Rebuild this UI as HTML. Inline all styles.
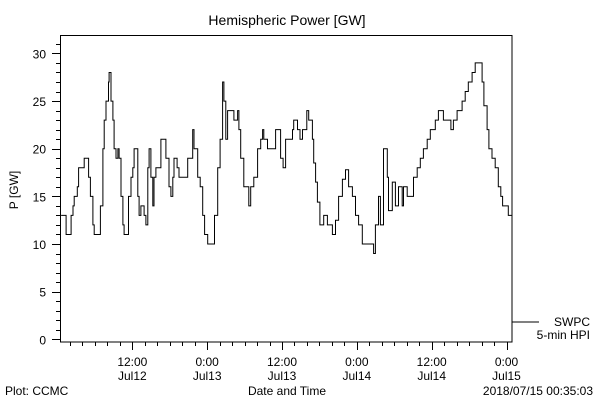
<!DOCTYPE html>
<html><head><meta charset="utf-8"><style>
body{margin:0;background:#fff}
svg{display:block;font-family:"Liberation Sans",sans-serif}
text{fill:#000}
</style></head><body>
<svg id="chart" width="600" height="400" viewBox="0 0 600 400">
<rect x="0" y="0" width="600" height="400" fill="#fff"/>
<text x="287" y="25" font-size="14" text-anchor="middle">Hemispheric Power [GW]</text>
<text x="18" y="190" font-size="12" text-anchor="middle" transform="rotate(-90 18 190)">P [GW]</text>
<text x="287" y="395" font-size="12" text-anchor="middle">Date and Time</text>
<text x="5" y="395" font-size="12">Plot: CCMC</text>
<text x="593" y="395" font-size="12" text-anchor="end">2018/07/15 00:35:03</text>
<line x1="512" y1="322" x2="539" y2="322" stroke="#000"/>
<text x="590" y="326" font-size="12" text-anchor="end">SWPC</text>
<text x="590" y="339" font-size="12" text-anchor="end">5-min HPI</text>
<g id="axes"></g>
<path id="series" fill="none" stroke="#000" stroke-width="1"/>
<rect x="60.5" y="35.5" width="451.5" height="306.5" fill="none" stroke="#000"/>
</svg>
<script>
const hours=[0,0.3,0.8,1.3,1.6,1.9,2.1,2.6,2.8,3.6,3.7,4.2,4.4,4.7,5.1,5.3,6.0,6.3,6.7,6.9,7.2,7.6,7.7,8.0,8.3,8.5,8.8,9.1,9.3,9.6,9.9,10.1,10.5,10.8,11.2,11.5,11.7,12.0,12.3,12.5,12.8,13.2,13.3,13.6,13.9,14.1,14.4,14.7,14.9,15.2,15.7,16.0,16.5,16.8,17.3,17.6,17.9,18.1,18.6,18.9,19.7,20.3,20.7,21.1,21.3,21.9,22.3,22.7,23.0,23.5,24.4,24.6,25.1,25.5,25.9,26.1,26.4,26.7,27.5,27.7,28.1,28.3,28.5,28.8,29.3,29.9,30.1,30.4,30.9,31.5,32.0,32.3,32.5,33.1,34.1,34.4,34.8,35.2,35.6,36.0,36.8,37.1,37.3,37.6,37.9,38.3,38.7,39.4,39.7,40.3,40.5,40.8,41.1,41.5,42.1,42.7,43.5,44.0,44.5,45.1,45.6,46.1,46.7,47.2,47.7,48.3,49.9,50.1,50.4,50.9,51.2,51.7,52.3,52.5,53.1,53.6,54.1,54.7,54.9,55.5,56.3,56.5,57.1,57.6,58.1,58.7,59.2,60.0,60.5,61.1,61.3,62.1,62.5,62.9,63.5,64.3,64.8,65.3,65.9,66.4,67.2,67.5,67.8,68.3,68.6,69.1,69.6,70.1,70.5,70.8,71.7,72.3];
const power=[13,13,11,11,13,14,15,16,18,18,19,19,17,15,12,11,11,14,20,23,25,27,28,25,23,20,19,20,19,15,12,11,11,15,17,18,20,20,15,13,14,14,13,12,18,20,17,14,17,18,18,21,21,19,16,15,17,19,18,17,17,19,19,22,20,17,16,13,11,10,10,13,18,21,27,25,21,24,24,23,23,24,22,19,16,16,14,16,17,20,21,22,21,20,20,22,22,19,18,21,21,22,23,23,22,21,22,24,23,21,18.5,16.5,14.4,12,13,12,11,12.5,15,16.8,17.8,16,15,13,12,10,10,9,12,15,12,20,17,13.5,16.5,14,16,14,16,15,15,17,18,19,20,21,22,23,24,24,23,23,22,23,24,25,26,27,28,29,29,27,24.5,22,20,19,18,16,15,14,13,12.5];
const yTicks=[0,5,10,15,20,25,30];
const xTickHours=[11.42,23.42,35.42,47.42,59.42,71.42];
const xTickTop=["12:00","0:00","12:00","0:00","12:00","0:00"];
const xTickBottom=["Jul12","Jul13","Jul13","Jul14","Jul14","Jul15"];
const X0=60.5,X1=512,Y0=339.3,PX=9.53,HMAX=72.3,HSTART=-0.1;
const sx=h=>X0+(h-HSTART)*(X1-X0)/(HMAX-HSTART);
const sy=v=>Y0-v*PX;
const NS="http://www.w3.org/2000/svg";
const ax=document.getElementById('axes');
function ln(x1,y1,x2,y2){const l=document.createElementNS(NS,'line');l.setAttribute('x1',x1);l.setAttribute('y1',y1);l.setAttribute('x2',x2);l.setAttribute('y2',y2);l.setAttribute('stroke','#000');ax.appendChild(l);return l;}
function tx(x,y,s,anchor){const t=document.createElementNS(NS,'text');t.setAttribute('x',x);t.setAttribute('y',y);t.setAttribute('font-size','12');t.setAttribute('text-anchor',anchor);t.textContent=s;ax.appendChild(t);return t;}
for(let v=0;v<=31;v++){const y=Math.round(sy(v))+0.5;const major=v%5===0;
const l=ln(major?52:56,y,60.5,y);

}
yTicks.forEach(v=>{const t=tx(46,sy(v)+5,String(v),'end');

});
for(let h=xTickHours[0]-12;h<=HMAX;h+=2){if(h<0)continue;const x=Math.round(sx(h))+0.5;const major=xTickHours.some(m=>Math.abs(m-h)<0.01);
const l=ln(x,342,x,major?350:346);

}
xTickHours.forEach((h,i)=>{const x=sx(h);
const a=tx(x,366,xTickTop[i],'middle');


const b=tx(x,380,xTickBottom[i],'middle');

});
let d='M'+sx(hours[0]).toFixed(1)+','+sy(power[0]).toFixed(1);
for(let i=1;i<hours.length;i++){d+=' H'+sx(hours[i]).toFixed(1)+' V'+sy(power[i]).toFixed(1);}
document.getElementById('series').setAttribute('d',d);
</script>
</body></html>
